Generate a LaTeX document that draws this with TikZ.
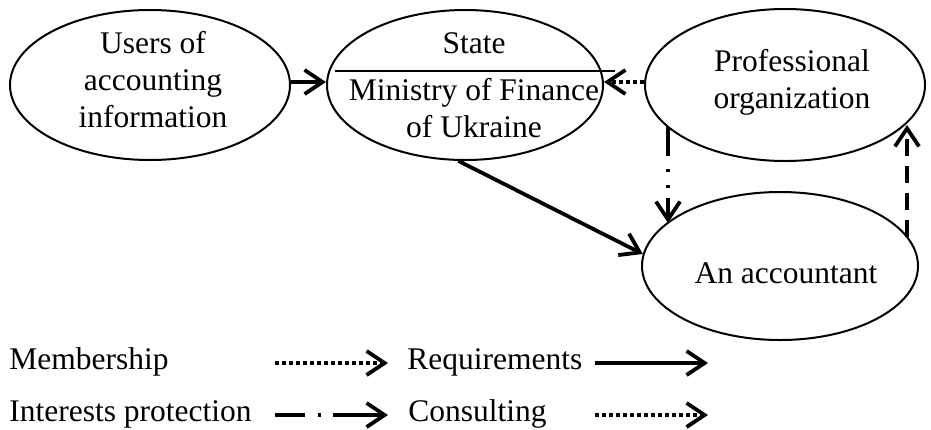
\documentclass[tikz,border=0pt]{standalone}
\usepackage{fontspec}
\setmainfont{Liberation Serif}
\usetikzlibrary{shapes.geometric,arrows.meta,calc}
\tikzset{
  ell/.style={draw, ellipse, line width=1pt, inner sep=0pt},
  txt/.style={inner sep=0pt, align=center, font=\fontsize{15.75}{18.5}\selectfont},
  arr/.style={line width=1.9pt, -{Straight Barb[length=9pt,width=12pt]}},
  dotln/.style={dash pattern=on 1.8pt off 1.7pt},
  dashdotln/.style={dash pattern=on 14.5pt off 6.5pt on 1.5pt off 6.5pt on 1.5pt off 5pt on 30pt},
  dashln/.style={dash pattern=on 8.5pt off 5pt},
  legdd/.style={dash pattern=on 15pt off 6.5pt on 1.5pt off 6pt on 40pt}
}
\begin{document}
\begin{tikzpicture}[x=0.5pt,y=-0.5pt]
\useasboundingbox (0,0) rectangle (931,429);
% ellipses
\node[ell, minimum width=140pt, minimum height=75pt] (users) at (150,85) {};
\node[ell, minimum width=138pt, minimum height=75pt] (state) at (465,85) {};
\node[ell, minimum width=140pt, minimum height=76pt] (prof) at (785,85) {};
\node[ell, minimum width=138pt, minimum height=74pt] (acc) at (780,266) {};
% texts (base anchor = baseline of the last line)
\node[txt, anchor=base] (tusers) at (153,127) {Users of\\accounting\\information};
\node[txt, anchor=base] (tstate) at (474,53) {State};
\node[txt, anchor=base] (tmin) at (474,137) {Ministry of Finance\\of Ukraine};
\node[txt, anchor=base] (tprof) at (792,108) {Professional\\organization};
\node[txt, anchor=base] (tacc) at (786,283) {An accountant};
% divider in State
\draw[line width=1pt] ($(state.center)+(-130,-14)$) -- ($(state.center)+(150,-14)$);
% connectors
\draw[arr] ([yshift=1.5pt]users.east) -- ([yshift=1.5pt]state.west);
\draw[arr, dotln] ([yshift=1.5pt]prof.west) -- ([yshift=1.5pt]state.east);
\draw[arr] (state.265) -- (acc.175);
\draw[arr, dashdotln] ($(prof.center)+(-117,42)$) -- ($(acc.center)+(-112,-43)$);
\draw[arr, dashln] ($(acc.center)+(127,-29)$) -- ($(prof.center)+(122,40)$);
% legend
\node[txt, anchor=base west] (lmem) at (9,369) {Membership};
\node[txt, anchor=base west] (lint) at (9,421) {Interests protection};
\node[txt, anchor=base west] (lreq) at (407,369) {Requirements};
\node[txt, anchor=base west] (lcon) at (408,421) {Consulting};
\coordinate (a1) at (275,363); \coordinate (a2) at (388,363);
\coordinate (b1) at (595,363); \coordinate (b2) at (708,363);
\coordinate (c1) at (275,415); \coordinate (c2) at (388,415);
\coordinate (d1) at (595,415); \coordinate (d2) at (708,415);
\draw[arr, dotln] (a1) -- (a2);
\draw[arr] (b1) -- (b2);
\draw[arr, legdd] (c1) -- (c2);
\draw[arr, dotln] (d1) -- (d2);
\end{tikzpicture}
\end{document}
